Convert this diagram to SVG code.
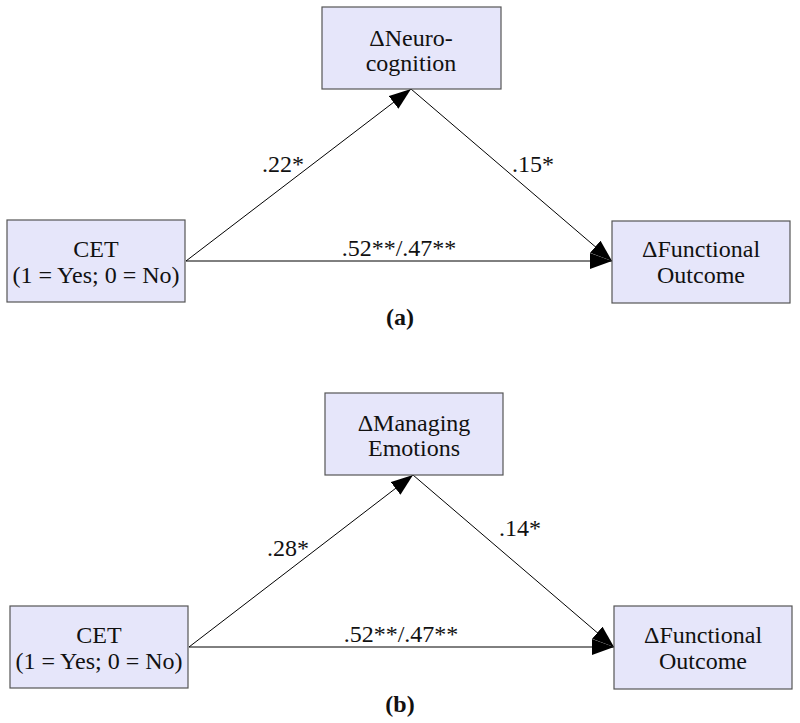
<svg xmlns="http://www.w3.org/2000/svg" width="800" height="723" viewBox="0 0 800 723">
<defs>
<marker id="ah" markerWidth="24" markerHeight="16" refX="22" refY="8" orient="auto" markerUnits="userSpaceOnUse">
<path d="M0,0 L22,8 L0,16 Z" fill="#000"/>
</marker>
<style>
.box{fill:#e6e6fa;stroke:#555;stroke-width:1.2}
text{font-family:'Liberation Serif','DejaVu Serif',serif;font-size:24px;fill:#111;text-anchor:middle}
.b{font-weight:bold}
.c{stroke:#000;stroke-width:1;fill:none;marker-end:url(#ah)}
</style>
</defs>
<rect width="800" height="723" fill="#fff"/>
<g id="connectors">
<line class="c" x1="186" y1="261" x2="411" y2="89"/>
<line class="c" x1="411" y1="89" x2="612" y2="261"/>
<line class="c" x1="186" y1="261" x2="612" y2="261"/>
<line class="c" x1="189" y1="647" x2="413" y2="475"/>
<line class="c" x1="413" y1="475" x2="614" y2="647"/>
<line class="c" x1="189" y1="647" x2="614" y2="647"/>
</g>
<g id="neuro">
<rect class="box" x="322" y="7" width="179" height="82"/>
<text x="411" y="46">ΔNeuro-</text>
<text x="411" y="71">cognition</text>
</g>
<g id="cet-a">
<rect class="box" x="7" y="220" width="178" height="82"/>
<text x="96" y="257">CET</text>
<text x="96" y="283">(1 = Yes; 0 = No)</text>
</g>
<g id="func-a">
<rect class="box" x="612" y="221" width="178" height="82"/>
<text x="701" y="257">ΔFunctional</text>
<text x="701" y="283">Outcome</text>
</g>
<g id="labels-a">
<text x="283" y="172">.22*</text>
<text x="533" y="172">.15*</text>
<text x="399" y="256">.52**/.47**</text>
<text class="b" x="400" y="325">(a)</text>
</g>
<g id="manage">
<rect class="box" x="325" y="393" width="178" height="82"/>
<text x="414" y="431">ΔManaging</text>
<text x="414" y="456">Emotions</text>
</g>
<g id="cet-b">
<rect class="box" x="10" y="606" width="178" height="82"/>
<text x="99" y="643">CET</text>
<text x="99" y="669">(1 = Yes; 0 = No)</text>
</g>
<g id="func-b">
<rect class="box" x="614" y="606" width="178" height="83"/>
<text x="703" y="643">ΔFunctional</text>
<text x="703" y="669">Outcome</text>
</g>
<g id="labels-b">
<text x="288" y="556">.28*</text>
<text x="520" y="536">.14*</text>
<text x="401" y="642">.52**/.47**</text>
<text class="b" x="400" y="712">(b)</text>
</g>
</svg>
